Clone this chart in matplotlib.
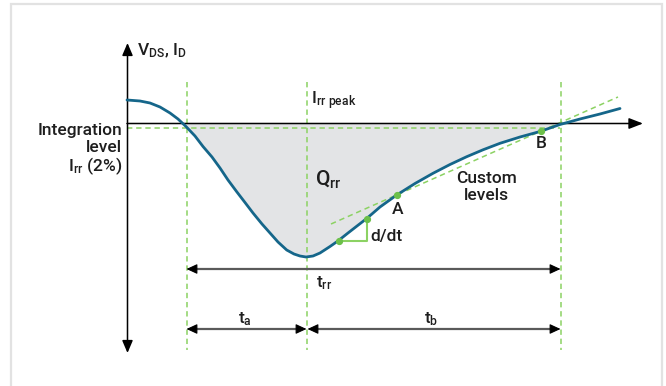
import matplotlib
matplotlib.use("Agg")
import matplotlib.pyplot as plt
from matplotlib.patches import FancyArrowPatch
import numpy as np

# recovery current curve (pixel coordinates, y down)
curve_x = [127, 140, 150, 160, 170, 178, 186, 195, 203, 212, 220, 228, 236.7, 245,
           253, 262, 270, 278, 286.7, 294, 300, 306, 313, 320, 330, 338.3, 348, 357,
           366.7, 380, 396.7, 415, 433, 450, 466.7, 483, 500, 520, 540, 560, 580, 600, 620]
curve_y = [100, 101, 103, 107, 113, 119, 126.5, 136, 146.5, 157, 168, 180, 191.7, 202.5,
           213, 224, 233, 242, 250, 254, 256, 257, 256, 253, 246.5, 240.7, 233, 226,
           218.5, 207, 195, 183.5, 173.3, 164.5, 156.7, 149.8, 143.3, 137, 131.5, 124.5,
           119, 114, 108.5]

axis_y = 123.5          # time axis
level_y = 127.5         # 2 % integration level
marker_x = [186.5, 307, 560.5]   # start, peak, end of recovery
tangent_x = [331, 618]
tangent_y = [224, 97]
custom_x = [397, 541]   # points A and B
custom_y = [195, 131]
deriv_x = [339, 366.5, 366.5]
deriv_y = [240.5, 240.5, 218.5]

BLUE = "#15668a"
GREEN = "#8cd263"
DOT = "#6cc04a"
FILL = "#e3e4e6"
TXT = "#1e1e1e"

plt.rcParams["font.family"] = ["Roboto", "DejaVu Sans"]
plt.rcParams["font.weight"] = "medium"
plt.rcParams["mathtext.fontset"] = "custom"
plt.rcParams["mathtext.rm"] = "Roboto:medium"
plt.rcParams["mathtext.it"] = "Roboto:medium"
plt.rcParams["mathtext.bf"] = "Roboto:bold"

fig = plt.figure(figsize=(6.66, 3.86), dpi=100)
ax = fig.add_axes([0, 0, 1, 1])
ax.set_xlim(0, 666)
ax.set_ylim(386, 0)
ax.axis("off")

# light frame
ax.plot([11, 11, 661.5, 661.5], [392, 4, 4, 392], color="#e2e2e2", lw=1.6,
        solid_joinstyle="miter")

cx = np.array(curve_x)
cy = np.array(curve_y)

# Q_rr area
ax.fill_between(cx, axis_y, cy, where=cy >= axis_y, interpolate=True,
                color=FILL, lw=0, zorder=1)

# dashed guides
dash = dict(color=GREEN, lw=1.1, ls=(0, (3.5, 2.5)), zorder=2)
for x in marker_x:
    ax.plot([x, x], [82, 350], **dash)
ax.plot([127, 560], [level_y, level_y], **dash)
ax.plot(tangent_x, tangent_y, **dash)

# axes with arrows
def arrow(p0, p1, style, color, lw, z=4):
    ax.add_patch(FancyArrowPatch(p0, p1, arrowstyle=style, color=color, lw=lw,
                                 shrinkA=0, shrinkB=0, zorder=z))

arrow((127.5, 353), (127.5, 43), "<|-|>,head_length=7.5,head_width=3.2", "black", 1.1)
arrow((127, axis_y), (643, axis_y), "-|>,head_length=8.5,head_width=3.3", "black", 1.1)

# curve
ax.plot(cx, cy, color=BLUE, lw=2.0, zorder=5, solid_capstyle="round",
        solid_joinstyle="round")

# d/dt triangle and custom level points
ax.plot(deriv_x, deriv_y, color=GREEN, lw=1.5, zorder=6)
ax.plot([deriv_x[0], deriv_x[2]], [deriv_y[0], deriv_y[2]], "o", color=DOT, ms=4.2, zorder=7)
ax.plot(custom_x, custom_y, "o", color=DOT, ms=4.2, zorder=7)

# time spans
def span(x0, x1, y):
    ax.plot([x0 + 6, x1 - 6], [y, y], color="#5a5a5a", lw=1.6, zorder=3)
    arrow((x0 + 8, y), (x0, y), "-|>,head_length=6.5,head_width=3", "black", 0.8)
    arrow((x1 - 8, y), (x1, y), "-|>,head_length=6.5,head_width=3", "black", 0.8)

span(marker_x[0], marker_x[2], 269)
span(marker_x[0], marker_x[1] - 0.5, 329)
span(marker_x[1] + 0.5, marker_x[2], 329)

fs = 12.5
ax.text(137, 50.5, r"V$_{\mathrm{DS}}$, I$_{\mathrm{D}}$", fontsize=fs, color=TXT,
        ha="left", va="center")
ax.text(311, 100.5, r"I$_{\mathrm{rr\ peak}}$", fontsize=fs, color=TXT, ha="left", va="center")
ax.text(315, 179.5, r"Q$_{\mathrm{rr}}$", fontsize=15, color=TXT, ha="left", va="center")
ax.text(122, 130, "Integration", fontsize=fs, color=TXT, ha="right", va="center")
ax.text(122, 148, "level", fontsize=fs, color=TXT, ha="right", va="center")
ax.text(122, 166, r"I$_{\mathrm{rr}}$ (2%)", fontsize=fs, color=TXT, ha="right", va="center")
ax.text(486.5, 178.5, "Custom", fontsize=fs, color=TXT, ha="center", va="center")
ax.text(486.5, 196, "levels", fontsize=fs, color=TXT, ha="center", va="center")
ax.text(397.3, 210, "A", fontsize=fs, color=TXT, ha="center", va="center")
ax.text(540.7, 143.5, "B", fontsize=fs, color=TXT, ha="center", va="center")
ax.text(370.5, 236.5, "d/dt", fontsize=fs, color=TXT, ha="left", va="center")
ax.text(316.5, 283, r"t$_{\mathrm{rr}}$", fontsize=fs, color=TXT, ha="left", va="center")
ax.text(237.5, 319, r"t$_{\mathrm{a}}$", fontsize=fs, color=TXT, ha="left", va="center")
ax.text(424.5, 319, r"t$_{\mathrm{b}}$", fontsize=fs, color=TXT, ha="left", va="center")

fig.savefig("out.png", dpi=100)
